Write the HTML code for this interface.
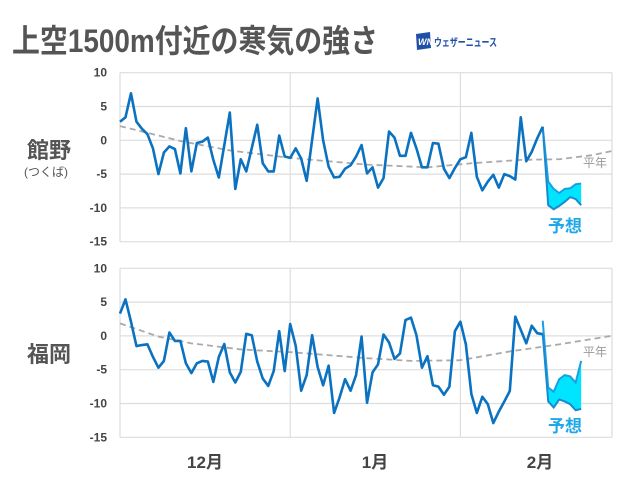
<!DOCTYPE html>
<html><head><meta charset="utf-8">
<style>
body{margin:0;background:#fff;width:640px;height:480px;overflow:hidden;font-family:"Liberation Sans","Noto Sans CJK JP",sans-serif;}
svg text{font-family:"Liberation Sans","Noto Sans CJK JP",sans-serif;}
</style></head><body>
<svg id="chart" width="640" height="480" viewBox="0 0 640 480">
<text x="12" y="52" font-size="32" font-weight="bold" fill="#555" textLength="366" lengthAdjust="spacingAndGlyphs">上空1500m付近の寒気の強さ</text>
<g>
<polygon points="416,34 430,32 431,48 417,50" fill="#1f4fa8"/>
<text x="418" y="45" font-size="9" font-weight="bold" fill="#fff" font-style="italic">WN</text>
<text x="434" y="46" font-size="11" font-weight="bold" fill="#1f4fa8" textLength="63" lengthAdjust="spacingAndGlyphs">ウェザーニュース</text>
</g>
<text x="27" y="158" font-size="22" font-weight="bold" fill="#555">館野</text>
<text x="24" y="176" font-size="12" fill="#555">(つくば)</text>
<text x="27" y="362" font-size="22" font-weight="bold" fill="#555">福岡</text>
<g id="panels"></g>
<text x="205" y="468" font-size="17" font-weight="bold" fill="#444" text-anchor="middle">12月</text>
<text x="375" y="468" font-size="17" font-weight="bold" fill="#444" text-anchor="middle">1月</text>
<text x="540" y="468" font-size="17" font-weight="bold" fill="#444" text-anchor="middle">2月</text>
</svg>
<script>
const yTicks=[10,5,0,-5,-10,-15];
const monthStartDays=[31,62];
const topObsDays=[0,1,2,3,4,5,6,7,8,9,10,11,12,13,14,15,16,17,18,20,21,22,23,25,26,27,28,29,30,31,32,33,34,36,37,38,39,40,41,42,43,44,45,46,47,48,49,50,51,52,53,54,55,56,57,58,59,60,61,62,63,64,65,66,67,68,69,70,71,72,73,74,75,76,77];
const topObsValues=[2.75,3.4,6.95,2.75,1.7,0.9,-1.2,-5,-1.8,-0.9,-1.3,-4.9,1.8,-4.6,-0.4,-0.2,0.4,-2.9,-5.5,4.1,-7.2,-2.8,-4.6,2.3,-3.4,-4.6,-4.6,0.7,-2.4,-2.6,-1.2,-2.7,-6,6.2,0,-3.9,-5.5,-5.4,-4.2,-3.7,-2.4,-0.7,-4.9,-4,-7,-5.6,1.3,0.4,-2.3,-2.3,1.1,-1.2,-4,-4,-0.4,-0.5,-4.2,-5.6,-4.1,-2.8,-2.5,1.1,-5.4,-7.4,-6.1,-5.1,-7,-5,-5.3,-5.8,3.4,-3.1,-1.7,0.3,2];
const topFcDays=[77,78,79,80,81,82,83,84];
const topFcUpper=[2,-6.1,-7.2,-7.8,-7.2,-7.1,-6.5,-6.4];
const topFcLower=[2,-9.6,-10.2,-9.7,-9.1,-8.4,-8.7,-9.6];
const topNormDays=[0,5,11,20,31,45,56,64,73,80,86,89.5];
const topNormValues=[2.1,1.1,-0.1,-1.5,-2.6,-3.6,-4,-3.4,-2.9,-2.8,-2.2,-1.6];
const botObsDays=Array.from({length:78},(_,i)=>i);
const botObsValues=[3.3,5.4,2.1,-1.5,-1.35,-1.25,-3.1,-4.7,-3.7,0.5,-0.75,-0.75,-4.05,-5.5,-4.05,-3.7,-3.8,-6.8,-3.1,-1.2,-5.4,-6.9,-5.3,0.3,0.1,-3.8,-6.3,-7.4,-5.2,0.7,-5.2,1.75,-1.45,-8.1,-5.8,0.1,-4.6,-7.3,-4.4,-11.4,-9.1,-6.4,-8.1,-5.8,-0.1,-9.9,-5.4,-4.2,0.2,-0.95,-3.4,-2.6,2.35,2.7,0.1,-4.7,-3,-7.3,-7.5,-8.7,-7.5,0.7,2.1,-1.25,-8.6,-11.4,-9,-10.1,-12.9,-11.2,-9.7,-8.15,2.85,0.9,-1.1,1.5,0.4,0.25];
const botFcDays=[77,78,79,80,81,82,83,84];
const botFcUpper=[2.25,-7.65,-8.25,-6.4,-5.8,-6.0,-6.9,-3.7];
const botFcLower=[0.25,-9.7,-10.6,-9.4,-9.7,-10.1,-11,-10.8];
const botNormDays=[0,7,13,22,31,45,53,62,71,80,89.5];
const botNormValues=[1.85,-0.1,-1.1,-2.0,-2.4,-3.3,-3.7,-3.6,-2.3,-1.25,0];

const NS='http://www.w3.org/2000/svg';
const X0=120,X1=612,DAYW=5.49;
const xs=d=>X0+d*DAYW;
function mk(tag,attrs,parent){const e=document.createElementNS(NS,tag);for(const k in attrs)e.setAttribute(k,attrs[k]);parent.appendChild(e);return e;}
const root=document.getElementById('panels');
function panel(name,yTop,yBot,od,ov,fd,fu,fl,nd,nv,lblNormY,lblFcY){
  const ys=v=>yBot-(v+15)*(yBot-yTop)/25;
  const g=mk('g',{},root);
  
  
  yTicks.forEach(t=>{
    const l=mk('line',{x1:X0,x2:X1,y1:ys(t),y2:ys(t),stroke:'#ddd','stroke-width':1.2},g);
    
    
    const tx=mk('text',{x:107,y:ys(t)+4,'font-size':12,'font-weight':'bold',fill:'#444','text-anchor':'end'},g);
    tx.textContent=t;
    
    
  });
  [X0,X1].concat(monthStartDays.map(xs)).forEach(x=>{
    const l=mk('line',{x1:x,x2:x,y1:yTop,y2:yBot,stroke:'#ddd','stroke-width':1.2},g);
    
    
  });
  const norm=mk('polyline',{points:nd.map((d,i)=>xs(d)+','+ys(nv[i])).join(' '),fill:'none',stroke:'#aaa','stroke-width':1.8,'stroke-dasharray':'6,4'},g);
  
  
  const nl=mk('text',{x:583,y:lblNormY,'font-size':12,fill:'#999'},g);
  nl.textContent='平年';
  
  
  const pts=fd.map((d,i)=>xs(d)+','+ys(fu[i])).concat(fd.slice().reverse().map((d,i)=>xs(d)+','+ys(fl[fl.length-1-i])));
  const band=mk('polygon',{points:pts.join(' '),fill:'#00e5ff',stroke:'none'},g);
  
  
  const fu2=mk('polyline',{points:fd.map((d,i)=>xs(d)+','+ys(fu[i])).join(' '),fill:'none',stroke:'#1aa0e0','stroke-width':2},g);
  
  
  const fl2=mk('polyline',{points:fd.map((d,i)=>xs(d)+','+ys(fl[i])).join(' '),fill:'none',stroke:'#1a8ad0','stroke-width':2},g);
  
  
  const obs=mk('polyline',{points:od.map((d,i)=>xs(d)+','+ys(ov[i])).join(' '),fill:'none',stroke:'#0a72c0','stroke-width':2.6,'stroke-linejoin':'round'},g);
  
  
  const fl3=mk('text',{x:565,y:lblFcY,'font-size':17,'font-weight':'bold',fill:'#1ea8e8','text-anchor':'middle'},g);
  fl3.textContent='予想';
  
  
}
panel('tateno',72.7,241.7,topObsDays,topObsValues,topFcDays,topFcUpper,topFcLower,topNormDays,topNormValues,167,232);
panel('fukuoka',268.3,437.3,botObsDays,botObsValues,botFcDays,botFcUpper,botFcLower,botNormDays,botNormValues,356,432);
</script>
</body></html>
